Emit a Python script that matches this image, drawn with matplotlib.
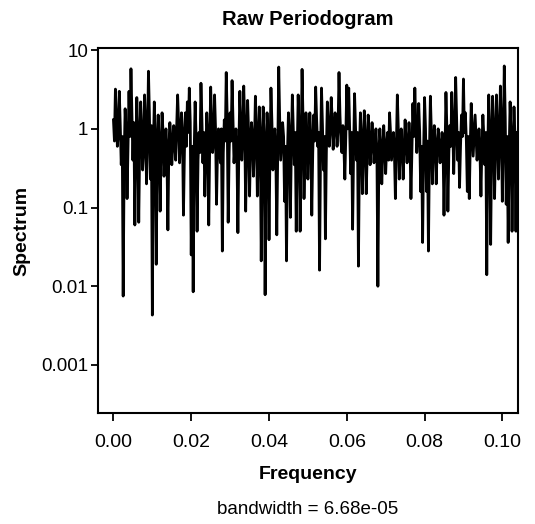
import matplotlib
matplotlib.use("Agg")
import matplotlib.pyplot as plt
from matplotlib.ticker import FixedLocator, FixedFormatter, NullLocator
import numpy as np

# frequency grid: one value every 0.00025, starting at 0
freq_step = 0.00025

# raw periodogram values (left to right)
spectrum = [
    1.3, 0.7, 3.2, 1.4, 0.6, 0.9, 3.0, 1.1, 0.35, 0.8,
    0.0075, 0.4, 1.8, 0.9, 0.13, 0.6, 3.0, 0.8, 5.8, 1.6,
    0.4, 1.2, 0.06, 0.5, 2.5, 0.9, 0.065, 0.6, 2.2, 1.0,
    0.3, 0.5, 2.7, 1.2, 0.2, 0.7, 5.4, 1.5, 0.23, 1.1,
    0.0043, 0.5, 2.2, 0.8, 0.019, 0.45, 1.5, 0.7, 0.09, 0.5,
    1.6, 0.9, 0.25, 0.5, 1.0, 0.45, 0.052, 0.6, 1.2, 0.8,
    0.35, 0.6, 1.1, 0.7, 0.4, 1.0, 2.7, 1.2, 0.37, 0.8,
    1.6, 0.9, 0.08, 0.5, 1.6, 0.6, 2.2, 0.9, 3.3, 1.2,
    0.025, 0.6, 0.0085, 0.5, 2.2, 0.8, 0.05, 0.4, 0.9, 0.5,
    3.8, 1.3, 0.37, 0.9, 0.14, 0.5, 1.6, 0.8, 0.06, 0.6,
    3.4, 1.2, 0.5, 0.7, 2.7, 1.0, 0.11, 0.5, 1.0, 0.6,
    0.37, 1.0, 0.028, 0.5, 1.3, 0.7, 5.2, 1.4, 0.065, 0.5,
    1.6, 0.7, 4.1, 1.2, 0.37, 0.6, 1.0, 0.5, 0.048, 0.6,
    3.0, 1.1, 0.4, 0.8, 3.5, 1.2, 0.09, 0.6, 2.3, 0.9,
    0.14, 0.6, 1.2, 0.8, 0.25, 0.6, 2.6, 1.0, 0.14, 0.5,
    1.9, 0.8, 0.021, 0.5, 1.9, 0.7, 0.0078, 0.4, 1.6, 0.7,
    0.039, 0.5, 3.3, 1.2, 0.3, 0.7, 1.0, 0.5, 0.045, 0.6,
    6.1, 1.3, 0.4, 0.7, 1.2, 0.8, 0.12, 0.6, 0.021, 0.5,
    1.6, 0.8, 0.075, 0.6, 2.7, 1.0, 0.35, 0.9, 0.05, 0.5,
    2.7, 0.9, 0.05, 0.6, 5.7, 1.3, 0.13, 0.5, 1.6, 0.9,
    0.23, 0.6, 1.6, 0.8, 0.08, 0.5, 1.5, 0.7, 3.4, 1.3,
    0.6, 0.9, 0.016, 0.5, 3.3, 1.1, 0.3, 0.8, 0.04, 0.5,
    2.2, 1.0, 0.6, 1.0, 2.5, 1.3, 0.55, 1.0, 1.6, 1.1,
    0.6, 1.0, 5.2, 1.5, 0.7, 0.5, 1.1, 0.6, 0.23, 0.8,
    3.6, 1.0, 3.3, 0.9, 0.27, 0.9, 0.053, 0.5, 2.8, 1.0,
    0.4, 0.9, 0.018, 0.5, 1.6, 0.8, 0.15, 0.5, 1.7, 0.8,
    0.15, 0.5, 1.5, 0.8, 0.35, 0.6, 1.2, 0.7, 0.37, 0.6,
    1.0, 0.5, 0.01, 0.45, 1.0, 0.6, 0.2, 0.5, 1.1, 0.6,
    0.27, 0.6, 0.9, 0.4, 1.6, 0.9, 0.4, 0.6, 0.9, 0.5,
    0.13, 0.6, 2.7, 1.0, 0.23, 0.6, 1.0, 0.5, 0.23, 0.6,
    1.3, 0.7, 0.37, 0.6, 1.2, 0.7, 0.13, 0.5, 2.1, 0.8,
    3.3, 1.2, 0.5, 0.8, 2.1, 0.9, 0.16, 0.6, 0.036, 0.5,
    2.5, 1.0, 0.16, 0.7, 0.028, 0.5, 2.6, 0.9, 0.2, 0.6,
    1.1, 0.6, 0.2, 0.6, 1.0, 0.6, 0.37, 0.6, 0.9, 0.6,
    0.08, 0.5, 2.9, 1.0, 0.09, 0.5, 1.1, 0.6, 2.9, 1.1,
    0.27, 0.8, 4.5, 1.3, 0.4, 0.9, 0.18, 0.6, 1.5, 0.8,
    4.3, 0.9, 1.6, 0.7, 0.16, 0.8, 0.13, 0.6, 2.1, 1.0,
    0.45, 0.8, 1.5, 0.8, 0.4, 0.6, 1.0, 0.5, 0.14, 0.6,
    1.5, 0.8, 0.35, 0.9, 0.014, 0.5, 2.7, 0.9, 0.034, 0.6,
    2.6, 1.0, 0.13, 0.6, 2.7, 1.0, 0.23, 0.7, 3.5, 1.1,
    0.12, 0.7, 6.3, 1.4, 0.11, 0.8, 0.036, 0.5, 2.2, 0.8,
    0.05, 0.5, 1.9, 0.8, 0.05, 0.9,
]
freq = np.arange(len(spectrum)) * freq_step

x_ticks = [0.00, 0.02, 0.04, 0.06, 0.08, 0.10]
x_labels = ["0.00", "0.02", "0.04", "0.06", "0.08", "0.10"]
y_ticks = [10, 1, 0.1, 0.01, 0.001]
y_labels = ["10", "1", "0.1", "0.01", "0.001"]

plt.rcParams['font.family'] = ['Liberation Sans', 'DejaVu Sans']

fig = plt.figure(figsize=(5.35, 5.24), dpi=100)
ax = fig.add_axes([0.183, 0.212, 0.785, 0.696])

ax.plot(freq, spectrum, color="black", lw=2.0)

ax.set_yscale("log")
ax.set_xlim(-0.004, 0.104)
ax.set_ylim(10 ** -3.61, 10 ** 1.025)

ax.xaxis.set_major_locator(FixedLocator(x_ticks))
ax.xaxis.set_major_formatter(FixedFormatter(x_labels))
ax.yaxis.set_major_locator(FixedLocator(y_ticks))
ax.yaxis.set_major_formatter(FixedFormatter(y_labels))
ax.yaxis.set_minor_locator(NullLocator())

ax.tick_params(axis="x", length=6, width=1.3, pad=9, labelsize=14)
ax.tick_params(axis="y", length=5, width=1.3, pad=2, labelsize=13.5)
for s in ax.spines.values():
    s.set_linewidth(1.5)

ax.set_title("Raw Periodogram", fontsize=14.5, fontweight="bold", pad=17)
ax.set_xlabel("Frequency", fontsize=14, fontweight="bold", labelpad=11)
ax.set_ylabel("Spectrum", fontsize=14, fontweight="bold", labelpad=8)
fig.text(0.5757, 0.028, "bandwidth = 6.68e-05", ha="center", va="center", fontsize=13.5)

fig.savefig("out.png", dpi=100)
